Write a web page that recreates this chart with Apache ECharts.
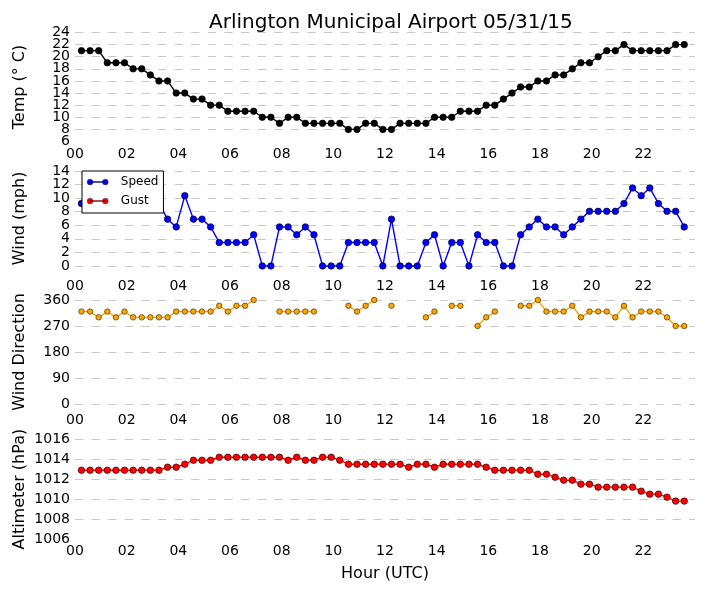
<!DOCTYPE html>
<html>
<head>
<meta charset="utf-8">
<title>Arlington Municipal Airport 05/31/15</title>
<script src="https://cdn.jsdelivr.net/npm/echarts@6/dist/echarts.min.js"></script>
<style>
  html, body { margin: 0; padding: 0; background: #fff; }
  #chart { width: 705px; height: 594px; }
</style>
</head>
<body>
<div id="chart"></div>
<script>
// observation times (UTC), one report every 20 minutes
const obsTimes = [
  '00:15', '00:35', '00:55', '01:15', '01:35', '01:55', '02:15', '02:35', '02:55',
  '03:15', '03:35', '03:55', '04:15', '04:35', '04:55', '05:15', '05:35', '05:55',
  '06:15', '06:35', '06:55', '07:15', '07:35', '07:55', '08:15', '08:35', '08:55',
  '09:15', '09:35', '09:55', '10:15', '10:35', '10:55', '11:15', '11:35', '11:55',
  '12:15', '12:35', '12:55', '13:15', '13:35', '13:55', '14:15', '14:35', '14:55',
  '15:15', '15:35', '15:55', '16:15', '16:35', '16:55', '17:15', '17:35', '17:55',
  '18:15', '18:35', '18:55', '19:15', '19:35', '19:55', '20:15', '20:35', '20:55',
  '21:15', '21:35', '21:55', '22:15', '22:35', '22:55', '23:15', '23:35'
];

const tempC = [
  21, 21, 21, 19, 19, 19, 18, 18, 17, 16, 16, 14, 14, 13, 13, 12, 12, 11,
  11, 11, 11, 10, 10, 9, 10, 10, 9, 9, 9, 9, 9, 8, 8, 9, 9, 8,
  8, 9, 9, 9, 9, 10, 10, 10, 11, 11, 11, 12, 12, 13, 14, 15, 15, 16,
  16, 17, 17, 18, 19, 19, 20, 21, 21, 22, 21, 21, 21, 21, 21, 22, 22
];

// the 2nd..10th readings sit behind the legend; estimated
const windMph = [
  9.2, 10.36, 9.2, 10.36, 9.2, 9.2, 10.36, 9.2, 9.2, 9.2, 6.9, 5.75, 10.36, 6.9, 6.9, 5.75, 3.45, 3.45,
  3.45, 3.45, 4.6, 0, 0, 5.75, 5.75, 4.6, 5.75, 4.6, 0, 0, 0, 3.45, 3.45, 3.45, 3.45, 0,
  6.9, 0, 0, 0, 3.45, 4.6, 0, 3.45, 3.45, 0, 4.6, 3.45, 3.45, 0, 0, 4.6, 5.75, 6.9,
  5.75, 5.75, 4.6, 5.75, 6.9, 8.05, 8.05, 8.05, 8.05, 9.2, 11.5, 10.36, 11.5, 9.2, 8.05, 8.05, 5.75
];

const gustMph = [];  // no gusts reported that day

// null = calm, no direction
const windDir = [
  320, 320, 300, 320, 300, 320, 300, 300, 300, 300, 300, 320, 320, 320, 320, 320, 340, 320,
  340, 340, 360, null, null, 320, 320, 320, 320, 320, null, null, null, 340, 320, 340, 360, null,
  340, null, null, null, 300, 320, null, 340, 340, null, 270, 300, 320, null, null, 340, 340, 360,
  320, 320, 320, 340, 300, 320, 320, 320, 300, 340, 300, 320, 320, 320, 300, 270, 270
];

const altHpa = [
  1012.9, 1012.9, 1012.9, 1012.9, 1012.9, 1012.9, 1012.9, 1012.9, 1012.9, 1012.9, 1013.2, 1013.2,
  1013.5, 1013.9, 1013.9, 1013.9, 1014.2, 1014.2, 1014.2, 1014.2, 1014.2, 1014.2, 1014.2, 1014.2,
  1013.9, 1014.2, 1013.9, 1013.9, 1014.2, 1014.2, 1013.9, 1013.5, 1013.5, 1013.5, 1013.5, 1013.5,
  1013.5, 1013.5, 1013.2, 1013.5, 1013.5, 1013.2, 1013.5, 1013.5, 1013.5, 1013.5, 1013.5, 1013.2,
  1012.9, 1012.9, 1012.9, 1012.9, 1012.9, 1012.5, 1012.5, 1012.2, 1011.9, 1011.9, 1011.5, 1011.5,
  1011.2, 1011.2, 1011.2, 1011.2, 1011.2, 1010.8, 1010.5, 1010.5, 1010.2, 1009.8, 1009.8
];

const hourTicks = ['00', '02', '04', '06', '08', '10', '12', '14', '16', '18', '20', '22'];

const FONT = 'DejaVu Sans';
const GRID_GRAY = '#c8c8c8';
const hours = obsTimes.map(t => { const [h, m] = t.split(':'); return +h + m / 60; });
const pairs = vals => vals.map((v, i) => [hours[i], v == null ? '-' : v]);

// panel boxes [top, height] and x label offsets.
// temp & wind axes run one step past the labelled range on each side:
// their ticks are packed so tight that echarts would otherwise drop the
// label next to a forced min/max label.
const panels = [[20.4, 133.2], [157.4, 122.1], [300, 104], [439.3, 99.7]];
const xMargins = [-6, 0, 9, 5];

const xAxes = panels.map((p, i) => ({
    gridIndex: i, type: 'value', min: 0, max: 24, interval: 2,
    axisLine: { show: false }, axisTick: { show: false }, splitLine: { show: false },
    axisLabel: {
        margin: xMargins[i], fontSize: 14, fontFamily: FONT, color: '#000',
        showMinLabel: true, showMaxLabel: true,
        formatter: v => hourTicks[v / 2] || ''
    },
    name: i === 3 ? 'Hour (UTC)' : '', nameLocation: 'middle', nameGap: 27,
    nameMoveOverlap: false,
    nameTextStyle: { fontSize: 16, fontFamily: FONT, color: '#000' }
}));

// lo/hi: labelled range; gridFrom: lowest value that still gets a dashed line
const yAxis = (i, name, min, max, interval, lo, hi, gridFrom) => {
    const n = Math.round((max - min) / interval) + 1;
    const colors = [];
    for (let k = 0; k < n; k++) {
        const v = min + k * interval;
        colors.push(v >= gridFrom && v <= hi ? GRID_GRAY : 'rgba(0,0,0,0)');
    }
    const padded = lo > min;
    return {
        gridIndex: i, type: 'value', min, max, interval,
        name, nameLocation: 'middle', nameRotate: 90, nameGap: 47, nameMoveOverlap: false,
        nameTextStyle: { fontSize: 16, fontFamily: FONT, color: '#000' },
        axisLine: { show: false }, axisTick: { show: false },
        axisLabel: {
            margin: 5, fontSize: 14, fontFamily: FONT, color: '#000',
            showMinLabel: !padded, showMaxLabel: !padded,
            formatter: v => (v >= lo && v <= hi ? String(v) : '')
        },
        splitLine: { show: true, lineStyle: { color: colors, width: 1, type: [8.3, 8.3] } }
    };
};

const lineSeries = (name, i, data, color, size, edge) => ({
    name, type: 'line', xAxisIndex: i, yAxisIndex: i, data: pairs(data),
    symbol: 'circle', symbolSize: size, showSymbol: true, clip: false,
    lineStyle: { color, width: 1.4 },
    itemStyle: { color, borderColor: edge, borderWidth: 0.7 },
    emphasis: { disabled: true }
});

const chart = echarts.init(document.getElementById('chart'));
chart.setOption({
    animation: false,
    backgroundColor: '#fff',
    textStyle: { fontFamily: FONT },
    title: {
        text: 'Arlington Municipal Airport 05/31/15', left: 204, top: 8,
        textStyle: { fontSize: 20, fontWeight: 'normal', fontFamily: FONT, color: '#000' }
    },
    legend: {
        data: ['Speed', 'Gust'], orient: 'vertical', left: 82, top: 171,
        padding: [5, 5, 6, 5], itemGap: 7, itemWidth: 21, itemHeight: 6,
        icon: 'path://M0,3a3,3 0 1,1 6,0a3,3 0 1,1 -6,0zM16,3a3,3 0 1,1 6,0a3,3 0 1,1 -6,0zM3,2.5h16v1h-16z',
        itemStyle: { borderWidth: 0.4 },
        formatter: name => '  ' + name,
        textStyle: { fontSize: 12, fontFamily: FONT, color: '#000' },
        backgroundColor: '#fff', borderColor: '#000', borderWidth: 1, borderRadius: 0,
        selectedMode: false, z: 10
    },
    grid: panels.map(p => ({ left: 75, width: 620, top: p[0], height: p[1], outerBoundsMode: 'none' })),
    xAxis: xAxes,
    yAxis: [
        yAxis(0, 'Temp (° C)', 4, 26, 2, 6, 24, 8),
        yAxis(1, 'Wind (mph)', -2, 16, 2, 0, 14, 0),
        yAxis(2, 'Wind Direction', 0, 360, 90, 0, 360, 0),
        yAxis(3, 'Altimeter (hPa)', 1006, 1016, 2, 1006, 1016, 1008)
    ],
    series: [
        lineSeries('Temp', 0, tempC, '#000', 6.5, '#000'),
        lineSeries('Speed', 1, windMph, '#0000ff', 6.5, '#000033'),
        lineSeries('Gust', 1, gustMph, '#ff0000', 6.5, '#330000'),
        lineSeries('Direction', 2, windDir, '#ffa500', 5.5, '#4d3300'),
        lineSeries('Altimeter', 3, altHpa, '#ff0000', 6.5, '#330000')
    ]
});
</script>
</body>
</html>
